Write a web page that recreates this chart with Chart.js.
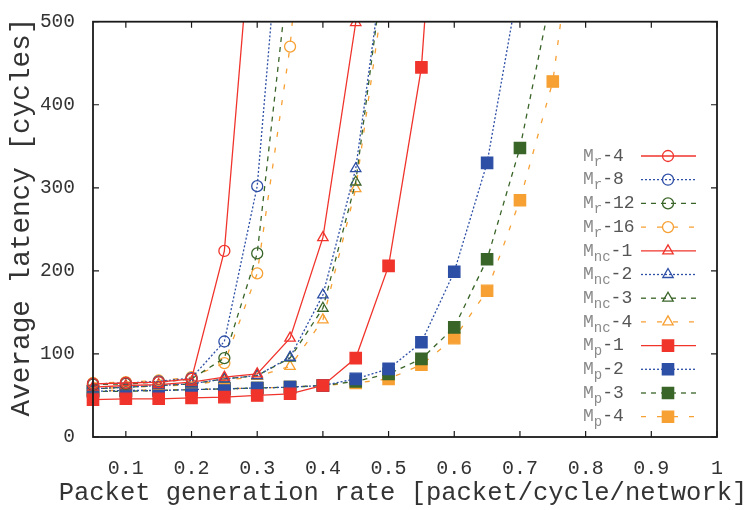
<!DOCTYPE html>
<html>
<head>
<meta charset="utf-8">
<script src="https://cdn.jsdelivr.net/npm/chart.js@4.4.1/dist/chart.umd.min.js"></script>
<style>
  html, body { margin: 0; padding: 0; background: #fff; }
  #wrap { width: 748px; height: 510px; }
</style>
</head>
<body>
<div id="wrap"><canvas id="chart"></canvas></div>
<script>
// packet generation rate (x) shared by every series
const rates = [0.05, 0.1, 0.15, 0.2, 0.25, 0.3, 0.35, 0.4, 0.45, 0.5, 0.55, 0.6, 0.65, 0.7, 0.75, 0.8];

// average latency in cycles (values past 500 leave the plot)
const mr4  = [64, 65, 66, 70, 224, 700];
const mr8  = [64, 65, 67, 71, 115, 302, 770];
const mr12 = [63, 64, 66, 70, 95, 221, 575];
const mr16 = [65, 66, 68, 72, 89, 197, 470, 900];

const mnc1 = [60, 62, 63, 66, 72, 76, 119, 240, 499, 900];
const mnc2 = [58, 60, 62, 64, 70, 74, 96, 171, 323, 615];
const mnc3 = [58, 60, 62, 64, 70, 74, 95, 155, 307, 610];
const mnc4 = [58, 60, 61, 63, 68, 73, 85, 141, 299, 576];

const mp1 = [45, 46, 46, 47, 48, 50, 52, 62, 95, 206, 445, 1000];
const mp2 = [55, 56, 56, 57, 58, 59, 60, 62, 70, 82, 114, 199, 330, 554];
const mp3 = [55, 55, 56, 57, 58, 59, 60, 62, 67, 76, 94, 132, 214, 348, 541];
const mp4 = [56, 56, 57, 57, 58, 59, 60, 62, 65, 70, 87, 119, 176, 285, 428, 725];

const xTicks = [0.1, 0.2, 0.3, 0.4, 0.5, 0.6, 0.7, 0.8, 0.9, 1];
const yTicks = [0, 100, 200, 300, 400, 500];

const xTitle = 'Packet generation rate [packet/cycle/network]';
const yTitle = 'Average latency [cycles]';

const red = '#f0342c';
const blue = '#2e4fa6';
const green = '#3a6528';
const orange = '#f7a033';

const styles = {
  red:    { color: red,    dash: [] },
  blue:   { color: blue,   dash: [2, 2] },
  green:  { color: green,  dash: [5, 5] },
  orange: { color: orange, dash: [5, 11] }
};

function series(sub, suffix, values, style, shape) {
  const s = styles[style];
  const filled = shape === 'rect';
  return {
    label: 'M' + sub + suffix,
    sub: sub,
    suffix: suffix,
    data: values.map((v, i) => ({ x: rates[i], y: v })),
    borderColor: s.color,
    borderDash: s.dash,
    borderWidth: 1.3,
    pointStyle: shape,
    pointRadius: shape === 'rect' ? 8 : (shape === 'triangle' ? 6 : 5.5),
    pointBorderWidth: 1.3,
    pointBorderColor: s.color,
    pointBackgroundColor: filled ? s.color : 'rgba(0,0,0,0)',
    tension: 0,
    clip: { left: 10, top: 0, right: 0, bottom: 10 }
  };
}

const datasets = [
  series('r', '-4',  mr4,  'red',    'circle'),
  series('r', '-8',  mr8,  'blue',   'circle'),
  series('r', '-12', mr12, 'green',  'circle'),
  series('r', '-16', mr16, 'orange', 'circle'),
  series('nc', '-1', mnc1, 'red',    'triangle'),
  series('nc', '-2', mnc2, 'blue',   'triangle'),
  series('nc', '-3', mnc3, 'green',  'triangle'),
  series('nc', '-4', mnc4, 'orange', 'triangle'),
  series('p', '-1',  mp1,  'red',    'rect'),
  series('p', '-2',  mp2,  'blue',   'rect'),
  series('p', '-3',  mp3,  'green',  'rect'),
  series('p', '-4',  mp4,  'orange', 'rect')
];

const mono = 'Liberation Mono, Courier New, monospace';

// frame with inward ticks on all four sides, axis titles, plus the gnuplot style key
const framePlugin = {
  id: 'frame',
  afterDraw(chart) {
    const { ctx, chartArea: a, scales: { x, y } } = chart;
    ctx.save();
    ctx.strokeStyle = '#1a1a1a';
    ctx.lineWidth = 1.2;
    ctx.beginPath();
    xTicks.forEach(v => {
      const px = x.getPixelForValue(v);
      ctx.moveTo(px, a.bottom); ctx.lineTo(px, a.bottom - 6);
      ctx.moveTo(px, a.top); ctx.lineTo(px, a.top + 6);
    });
    yTicks.forEach(v => {
      const py = y.getPixelForValue(v);
      ctx.moveTo(a.left, py); ctx.lineTo(a.left + 6, py);
      ctx.moveTo(a.right, py); ctx.lineTo(a.right - 6, py);
    });
    ctx.stroke();
    ctx.lineWidth = 1.8;
    ctx.strokeRect(a.left, a.top, a.right - a.left, a.bottom - a.top);

    // axis titles (drawn here so they are not squeezed to the axis width)
    ctx.fillStyle = '#333';
    ctx.textAlign = 'center';
    ctx.textBaseline = 'middle';
    ctx.font = '25.5px ' + mono;
    ctx.fillText(xTitle, 403, 493);
    ctx.save();
    ctx.translate(22, 217);
    ctx.rotate(-Math.PI / 2);
    ctx.font = '27.7px ' + mono;
    ctx.fillText(yTitle, 0, 0);
    ctx.restore();

    // key
    const rowH = 23.7;
    chart.data.datasets.forEach((ds, i) => {
      const ly = 156 + i * rowH;
      let tx = 583;
      ctx.textBaseline = 'middle';
      ctx.textAlign = 'left';
      ctx.fillStyle = '#8a8a8a';
      ctx.font = '18px ' + mono;
      ctx.fillText('M', tx, ly);
      tx += ctx.measureText('M').width;
      ctx.font = '14px ' + mono;
      ctx.fillText(ds.sub, tx, ly + 6);
      tx += ctx.measureText(ds.sub).width;
      ctx.font = '18px ' + mono;
      ctx.fillStyle = '#555';
      ctx.fillText(ds.suffix, tx, ly);

      ctx.strokeStyle = ds.borderColor;
      ctx.lineWidth = ds.borderWidth;
      ctx.setLineDash(ds.borderDash);
      ctx.beginPath();
      ctx.moveTo(641, ly);
      ctx.lineTo(696, ly);
      ctx.stroke();
      ctx.setLineDash([]);
      ctx.fillStyle = ds.pointBackgroundColor;
      ctx.lineWidth = ds.pointBorderWidth;
      Chart.helpers.drawPoint(ctx, {
        pointStyle: ds.pointStyle,
        radius: ds.pointRadius,
        rotation: 0,
        borderWidth: ds.pointBorderWidth
      }, 668, ly);
    });
    ctx.restore();
  }
};

new Chart(document.getElementById('chart'), {
  type: 'line',
  data: { datasets: datasets },
  plugins: [framePlugin],
  options: {
    responsive: true,
    maintainAspectRatio: false,
    animation: false,
    events: [],
    layout: { padding: { left: 0, right: 31, top: 16, bottom: 0 } },
    plugins: {
      legend: { display: false },
      tooltip: { enabled: false }
    },
    scales: {
      x: {
        type: 'linear',
        min: 0.05,
        max: 1,
        afterFit(scale) { scale.height = 73; },
        afterBuildTicks(scale) { scale.ticks = xTicks.map(v => ({ value: v })); },
        grid: { display: false },
        border: { display: false },
        ticks: {
          padding: 12,
          color: '#333',
          font: { family: mono, size: 20 },
          maxRotation: 0,
          autoSkip: false,
          callback: v => String(+v.toFixed(1))
        }
      },
      y: {
        type: 'linear',
        min: 0,
        max: 500,
        afterFit(scale) { scale.width = 93; },
        afterBuildTicks(scale) { scale.ticks = yTicks.map(v => ({ value: v })); },
        grid: { display: false },
        border: { display: false },
        ticks: {
          padding: 10,
          color: '#333',
          font: { family: mono, size: 19.5 },
          callback: v => String(v)
        }
      }
    }
  }
});
</script>
</body>
</html>
